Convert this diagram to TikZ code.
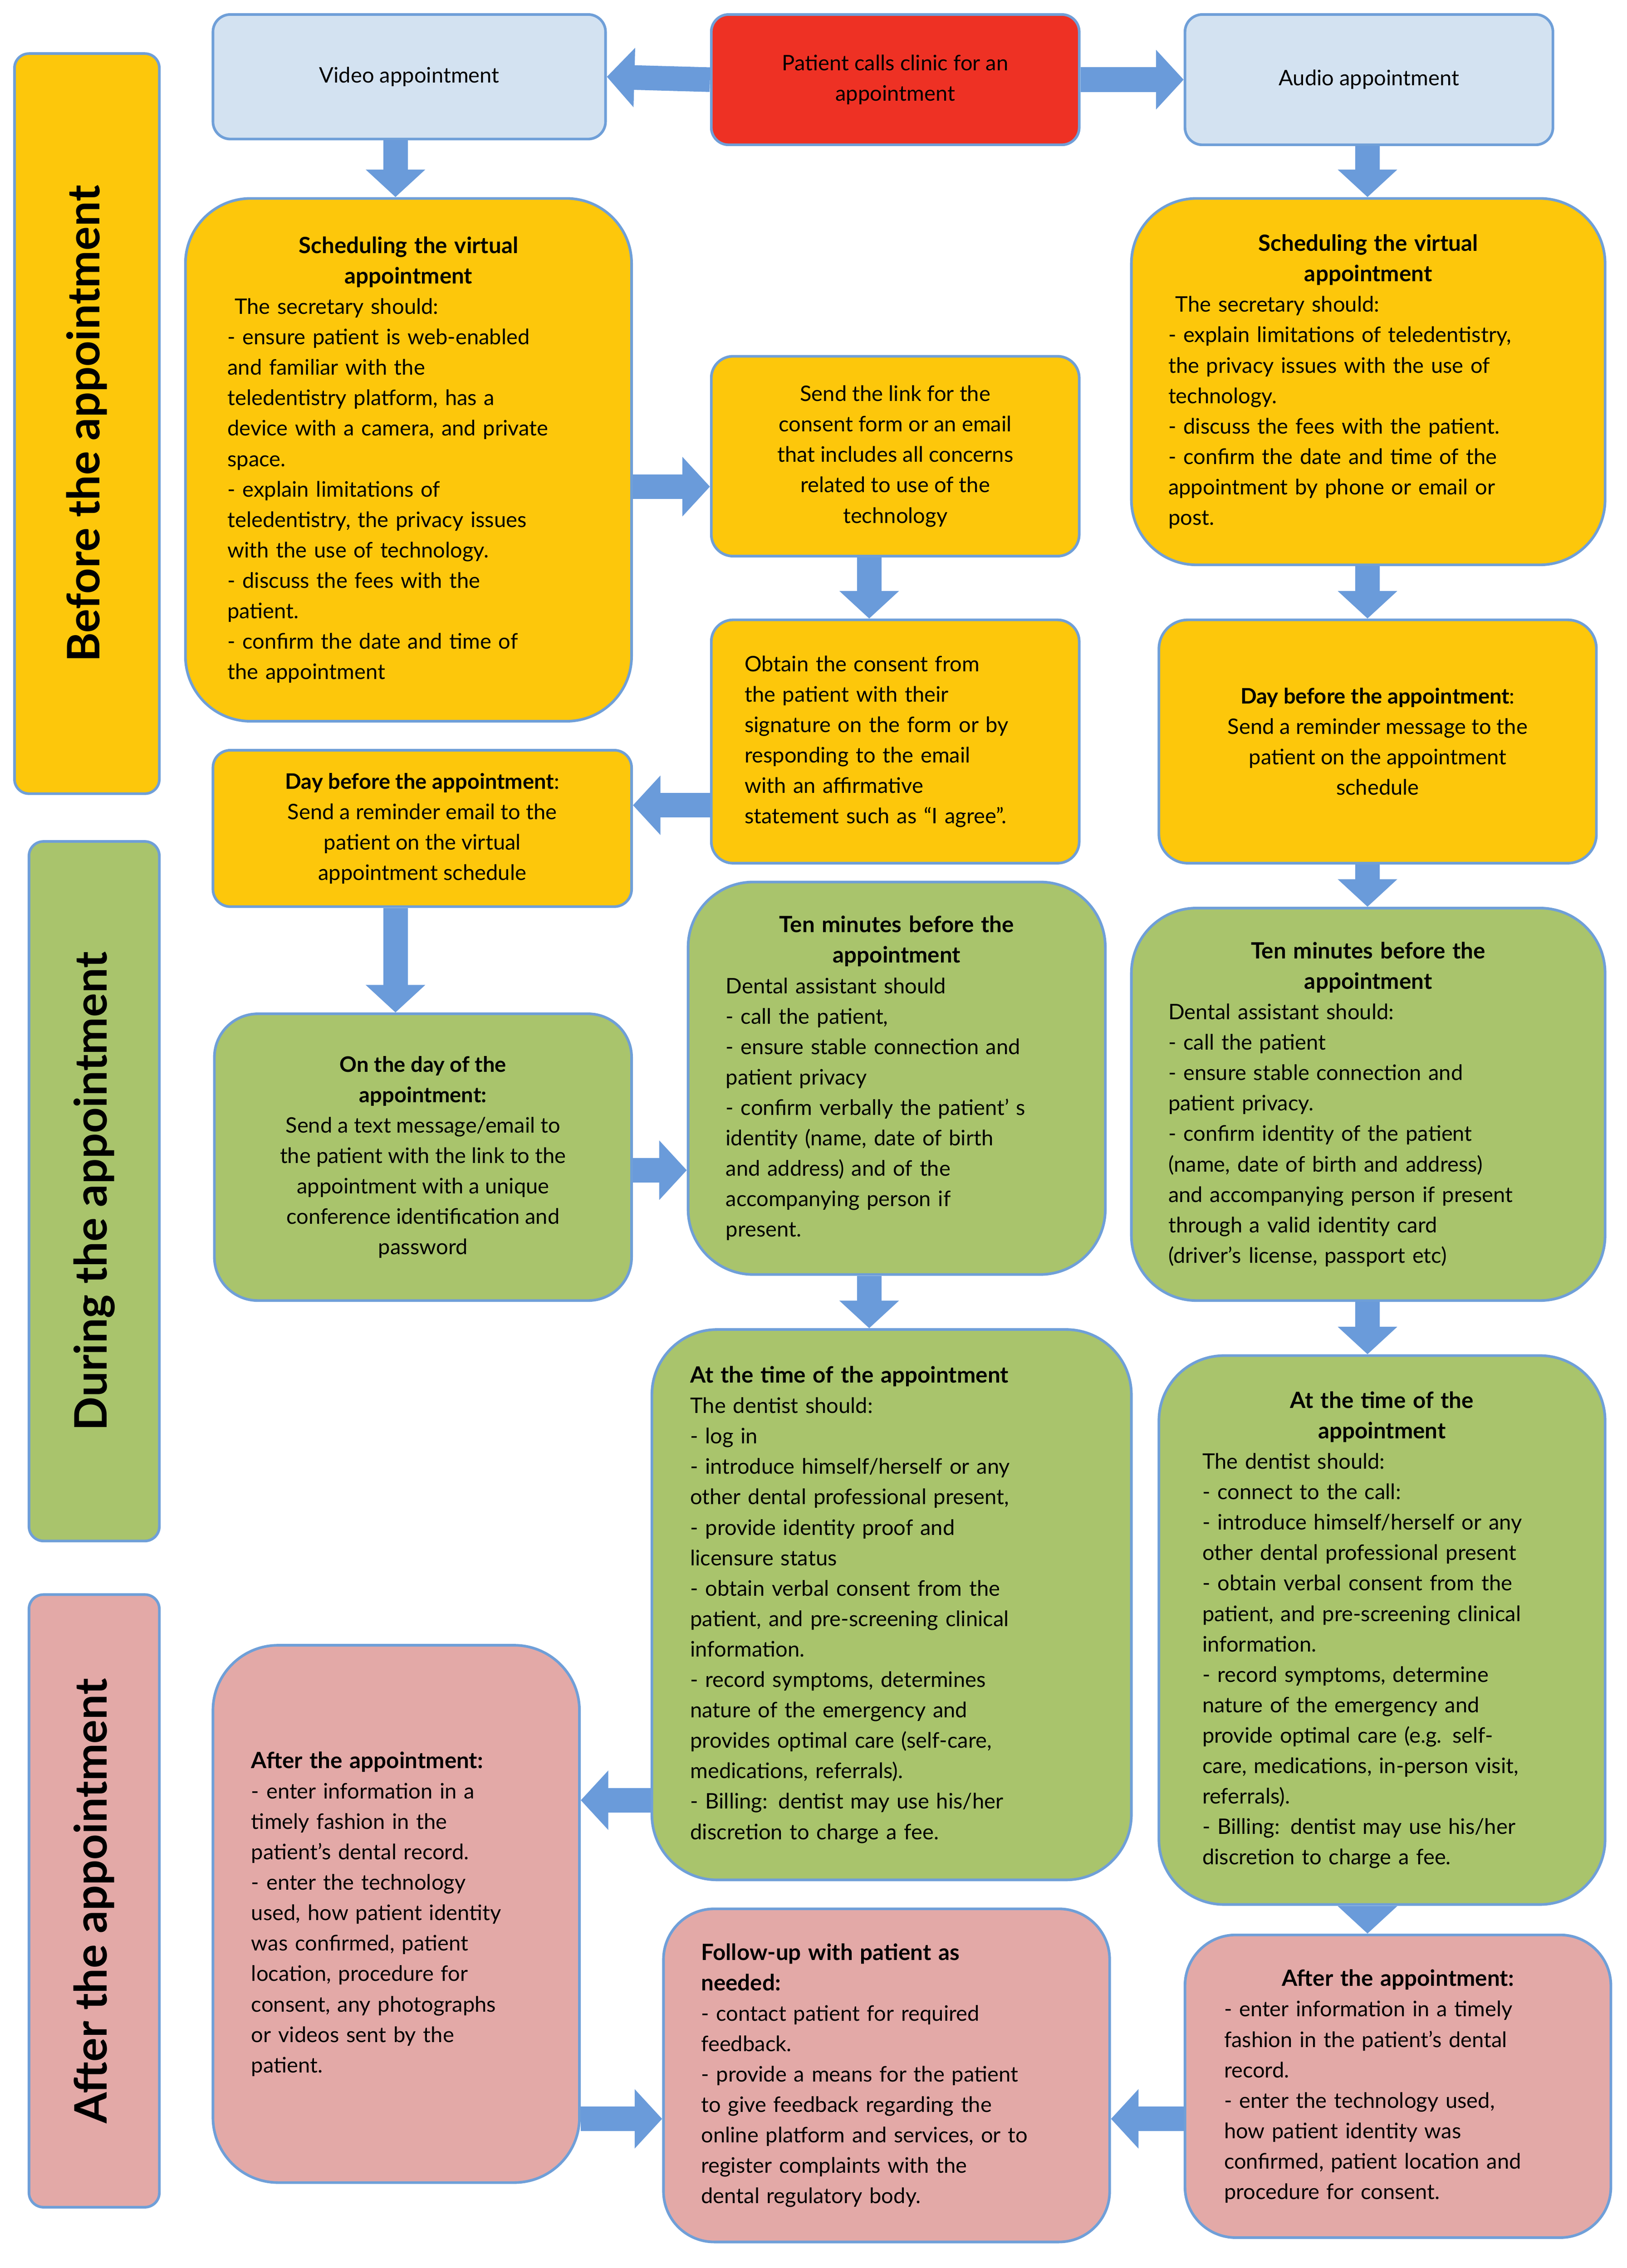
\documentclass[tikz,border=0pt]{standalone}
\usepackage{fontspec}
\setmainfont{Lato}
\usetikzlibrary{arrows.meta}
\definecolor{lblue}{HTML}{D3E2F1}
\definecolor{bord}{HTML}{6F9FD8}
\definecolor{cred}{HTML}{EE3124}
\definecolor{yel}{HTML}{FDC70B}
\definecolor{grn}{HTML}{A9C46C}
\definecolor{pnk}{HTML}{E3A9A7}
\definecolor{arr}{HTML}{6A9BDA}
\newcommand\hd[1]{{\centering\bfseries\fontsize{22}{29.9}\selectfont #1\par}}
\begin{document}
\begin{tikzpicture}[x=0.05cm,y=-0.05cm,
  box/.style n args={3}{draw=bord, line width=2.6pt, rounded corners=#3*0.05cm,
    minimum width=#1*0.05cm, minimum height=#2*0.05cm, inner sep=0pt,
    font=\fontsize{21}{29.9}\selectfont},
  band/.style n args={3}{draw=bord, line width=2.6pt, rounded corners=0.5cm,
    minimum width=#1*0.05cm, minimum height=#2*0.05cm, rotate=90, inner sep=0pt,
    font=\fontsize{44}{50}\selectfont\bfseries, fill=#3},
  barrow/.style={draw=arr, line width=0.85cm, -{Triangle[width=2.0cm,length=0.95cm]}}]
\useasboundingbox (0,0) rectangle (1123,1566);
% bands
\node[band={511}{100}{yel}] (b1) at (60,292.5) {Before the appointment};
\node[band={483}{90}{grn}] (b2) at (65,822.5) {During the appointment};
\node[band={423}{90}{pnk}] (b3) at (65,1312.5) {After the appointment};
% top row
\node[box={271}{86}{12}, fill=lblue, align=center] (video) at (282.5,53) {Video appointment};
\node[box={254}{90}{12}, fill=cred, align=center] (calls) at (618,55) {Patient calls clinic for an\\appointment};
\node[box={254}{90}{12}, fill=lblue, align=center] (audio) at (945,55) {Audio appointment};
% yellow
\node[box={308}{361}{45}, fill=yel, text width=12.5cm, align=left] (sv) at (282,317.5) {\hd{Scheduling the virtual\\appointment}
\ The secretary should:\\- ensure patient is web-enabled\\and familiar with the\\teledentistry platform, has a\\device with a camera, and private\\space.\\- explain limitations of\\teledentistry, the privacy issues\\with the use of technology.\\- discuss the fees with the\\patient.\\- confirm the date and time of\\the appointment};
\node[box={254}{138}{15}, fill=yel, align=center] (link) at (618,315) {Send the link for the\\consent form or an email\\that includes all concerns\\related to use of the\\technology};
\node[box={254}{168}{15}, fill=yel, text width=10.4cm, align=left] (obtain) at (618,512) {Obtain the consent from\\the patient with their\\signature on the form or by\\responding to the email\\with an affirmative\\statement such as “I agree”.};
\node[box={289}{108}{12}, fill=yel, align=center] (dbv) at (291.5,572) {\textbf{Day before the appointment}:\\Send a reminder email to the\\patient on the virtual\\appointment schedule};
\node[box={327}{253}{45}, fill=yel, text width=13.8cm, align=left] (sa) at (944.5,263.5) {\hd{Scheduling the virtual\\appointment}
\ The secretary should:\\- explain limitations of teledentistry,\\the privacy issues with the use of\\technology.\\- discuss the fees with the patient.\\- confirm the date and time of the\\appointment by phone or email or\\post.};
\node[box={302}{168}{20}, fill=yel, align=center] (dba) at (951,512) {\textbf{Day before the appointment}:\\Send a reminder message to the\\patient on the appointment\\schedule};
% green
\node[box={288}{198}{30}, fill=grn, align=center] (od) at (292,799) {\textbf{On the day of the}\\\textbf{appointment:}\\Send a text message/email to\\the patient with the link to the\\appointment with a unique\\conference identification and\\password};
\node[box={288}{271}{45}, fill=grn, text width=11.8cm, align=left] (tmv) at (619,744.5) {\hd{Ten minutes before the\\appointment}
Dental assistant should\\- call the patient,\\- ensure stable connection and\\patient privacy\\- confirm verbally the patient’ s\\identity (name, date of birth\\and address) and of the\\accompanying person if\\present.};
\node[box={327}{271}{45}, fill=grn, text width=13.8cm, align=left] (tma) at (944.5,762.5) {\hd{Ten minutes before the\\appointment}
Dental assistant should:\\- call the patient\\- ensure stable connection and\\patient privacy.\\- confirm identity of the patient\\(name, date of birth and address)\\and accompanying person if present\\through a valid identity card\\(driver’s license, passport etc)};
\node[box={331}{380}{45}, fill=grn, text width=13.9cm, align=left] (atv) at (615.5,1108) {{\bfseries\fontsize{22}{29.9}\selectfont At the time of the appointment}\\The dentist should:\\- log in\\- introduce himself/herself or any\\other dental professional present,\\- provide identity proof and\\licensure status\\- obtain verbal consent from the\\patient, and pre-screening clinical\\information.\\- record symptoms, determines\\nature of the emergency and\\provides optimal care (self-care,\\medications, referrals).\\- Billing: dentist may use his/her\\discretion to charge a fee.};
\node[box={308}{379}{45}, fill=grn, text width=12.4cm, align=left] (ata) at (954,1125.5) {\hd{At the time of the\\appointment}
The dentist should:\\- connect to the call:\\- introduce himself/herself or any\\other dental professional present\\- obtain verbal consent from the\\patient, and pre-screening clinical\\information.\\- record symptoms, determine\\nature of the emergency and\\provide optimal care (e.g. self-\\care, medications, in-person visit,\\referrals).\\- Billing: dentist may use his/her\\discretion to charge a fee.};
% pink
\node[box={253}{371}{45}, fill=pnk, text width=10.0cm, align=left] (av) at (273.5,1321.5) {{\bfseries\fontsize{22}{29.9}\selectfont After the appointment:}\\- enter information in a\\timely fashion in the\\patient’s dental record.\\- enter the technology\\used, how patient identity\\was confirmed, patient\\location, procedure for\\consent, any photographs\\or videos sent by the\\patient.\\[2.5cm]};
\node[box={308}{230}{35}, fill=pnk, text width=12.8cm, align=left] (fu) at (612,1433) {{\bfseries\fontsize{22}{29.9}\selectfont Follow-up with patient as}\\{\bfseries\fontsize{22}{29.9}\selectfont needed:}\\- contact patient for required\\feedback.\\- provide a means for the patient\\to give feedback regarding the\\online platform and services, or to\\register complaints with the\\dental regulatory body.};
\node[box={294}{209}{35}, fill=pnk, text width=12.0cm, align=left] (aa) at (965,1440.5) {\hd{After the appointment:}
- enter information in a timely\\fashion in the patient’s dental\\record.\\- enter the technology used,\\how patient identity was\\confirmed, patient location and\\procedure for consent.};
% arrows
\draw[barrow] (calls.west) -- (video.east);
\draw[barrow] (calls.east) -- (audio.west);
\draw[barrow] (video.south -| 273,0) -- (sv.north -| 273,0);
\draw[barrow] (audio.south -| 944,0) -- (sa.north -| 944,0);
\draw[barrow] (sv.east |- 0,336) -- (link.west |- 0,336);
\draw[barrow] (link.south -| 600,0) -- (obtain.north -| 600,0);
\draw[barrow] (obtain.west |- 0,556) -- (dbv.east |- 0,556);
\draw[barrow] (dbv.south -| 273,0) -- (od.north -| 273,0);
\draw[barrow] (sa.south -| 944,0) -- (dba.north -| 944,0);
\draw[barrow] (dba.south -| 944,0) -- (tma.north -| 944,0);
\draw[barrow] (od.east |- 0,808) -- (tmv.west |- 0,808);
\draw[barrow] (tmv.south -| 600,0) -- (atv.north -| 600,0);
\draw[barrow] (tma.south -| 944,0) -- (ata.north -| 944,0);
\draw[barrow] (atv.west |- 0,1243) -- (av.east |- 0,1243);
\draw[barrow] (ata.south -| 944,0) -- (aa.north -| 944,0);
\draw[barrow] (av.east |- 0,1463) -- (fu.west |- 0,1463);
\draw[barrow] (aa.west |- 0,1463) -- (fu.east |- 0,1463);
\end{tikzpicture}
\end{document}
